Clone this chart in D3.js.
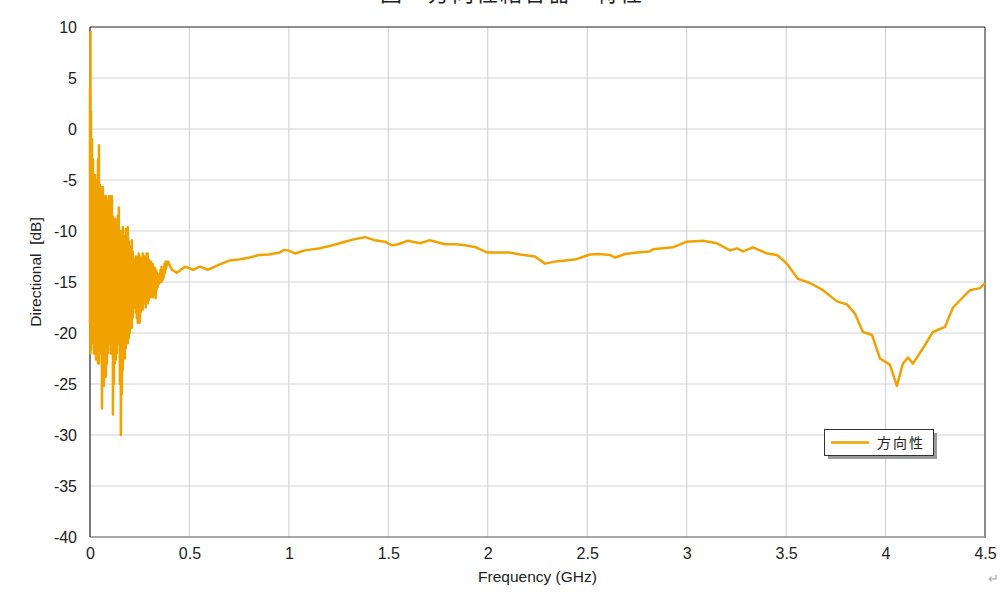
<!DOCTYPE html>
<html>
<head>
<meta charset="utf-8">
<script src="https://cdn.jsdelivr.net/npm/d3@7"></script>
<style>
  html, body { margin: 0; padding: 0; background: #fff; }
  svg { display: block; }
</style>
</head>
<body>
<svg id="chart" width="1000" height="594"></svg>
<script>
// ---------- data ----------
const titleText = "図\u3000方向性結合器\u3000特性";
const xTitle = "Frequency (GHz)";
const yTitle = "Directional\u00a0\u00a0[dB]";
const seriesName = "方向性";

const xTicks = [0, 0.5, 1, 1.5, 2, 2.5, 3, 3.5, 4, 4.5];
const xTickLabels = ["0", "0.5", "1", "1.5", "2", "2.5", "3", "3.5", "4", "4.5"];
const yTicks = [-40, -35, -30, -25, -20, -15, -10, -5, 0, 5, 10];
const yTickLabels = ["-40", "-35", "-30", "-25", "-20", "-15", "-10", "-5", "0", "5", "10"];

// low-frequency noisy region: per-bin max / min values
const noiseFreq = [0, 0.0025, 0.005, 0.0075, 0.010, 0.015, 0.020, 0.025, 0.030, 0.035, 0.040, 0.045, 0.050,
  0.055, 0.060, 0.065, 0.070, 0.075, 0.080, 0.085, 0.090, 0.095, 0.100, 0.105, 0.110, 0.115, 0.120,
  0.125, 0.130, 0.135, 0.140, 0.145, 0.150, 0.155, 0.160, 0.165, 0.170, 0.175, 0.180, 0.185, 0.190,
  0.195, 0.200, 0.205, 0.210, 0.215, 0.220, 0.225, 0.230, 0.235, 0.240, 0.245, 0.250, 0.255, 0.260,
  0.265, 0.270, 0.275, 0.280, 0.285, 0.290, 0.295, 0.300, 0.305, 0.310, 0.315, 0.320, 0.325, 0.330,
  0.335, 0.340, 0.345, 0.350, 0.355, 0.360, 0.365, 0.370, 0.375, 0.380];
const noiseHi = [4, 9.5, 1.7, -3, -1, -3, -5, -4.5, -5.0, -5.5, -3, -1.6, -5.5,
  -6, -5.7, -5.7, -6.6, -7, -6.6, -7.5, -7, -6.6, -6.6, -8, -6.6,
  -8.6, -9, -8.8, -8.9, -9.5, -8.5, -7.7, -10, -12.5, -10, -9.6, -11,
  -10.5, -9.8, -10, -9.6, -11, -11.5, -11.5, -10.9, -12, -12.8, -12.8, -12.5,
  -13, -12.5, -12.2, -12.5, -12.8, -12.6, -12.2, -12.8, -12.5, -12.6, -12.2, -12.2,
  -12.8, -13.2, -13.0, -13.4, -13.2, -13.5, -13.6, -13.8, -14.0, -14.2, -14.5, -14.5,
  -13.8, -13.5, -13.8, -14.0, -13.2, -13.0];
const noiseLo = [-19, -22, -21.7, -20, -21, -19.7, -22, -21, -22.6, -22, -23, -23, -21,
  -22, -27.4, -24.9, -25.2, -24, -24.3, -23, -22, -21, -20.4, -22, -21,
  -28.0, -25, -23, -22.6, -22, -21, -20.2, -25, -30.0, -26, -23.6, -22,
  -22.5, -21.5, -21, -21.0, -20.5, -20, -19.5, -19.5, -18.5, -17.5, -16.8, -18,
  -18.5, -19, -18.2, -19.0, -18, -17.7, -17.7, -17, -16.8, -17.5, -16.5, -17.1,
  -16.8, -16.2, -16.5, -16.0, -16.5, -16.0, -16.3, -16.6, -15.8, -15.5, -15.2, -15.1,
  -15.0, -15.0, -14.8, -14.6, -14.2, -13.8];

// smooth region
const smoothFreq = [0.392, 0.412, 0.437, 0.477, 0.518, 0.553, 0.593, 0.65, 0.70, 0.75, 0.804, 0.85, 0.90,
  0.955, 0.975, 0.995, 1.031, 1.08, 1.156, 1.22, 1.282, 1.33, 1.383, 1.43, 1.483, 1.518, 1.55,
  1.599, 1.659, 1.709, 1.785, 1.84, 1.885, 1.94, 1.996, 2.061, 2.11, 2.162, 2.237, 2.288, 2.338,
  2.39, 2.438, 2.514, 2.56, 2.614, 2.64, 2.69, 2.75, 2.815, 2.831, 2.931, 3.001, 3.082, 3.152,
  3.218, 3.253, 3.283, 3.333, 3.404, 3.454, 3.504, 3.56, 3.62, 3.685, 3.756, 3.806, 3.846, 3.886,
  3.932, 3.972, 4.022, 4.057, 4.087, 4.113, 4.138, 4.188, 4.238, 4.299, 4.339, 4.424, 4.475, 4.5];
const smoothVal = [-13.0, -13.8, -14.1, -13.5, -13.8, -13.5, -13.8, -13.3, -12.9, -12.8, -12.6, -12.35, -12.3,
  -12.1, -11.85, -11.9, -12.2, -11.9, -11.7, -11.4, -11.05, -10.8, -10.6, -10.9, -11.05, -11.4, -11.3,
  -10.95, -11.2, -10.9, -11.3, -11.3, -11.4, -11.6, -12.1, -12.1, -12.1, -12.3, -12.5, -13.2, -13.0,
  -12.9, -12.8, -12.3, -12.25, -12.35, -12.6, -12.25, -12.1, -12.0, -11.8, -11.6, -11.05, -10.95, -11.2,
  -11.9, -11.7, -12.0, -11.6, -12.2, -12.35, -13.2, -14.7, -15.1, -15.8, -16.9, -17.2, -18.1, -19.9,
  -20.2, -22.5, -23.1, -25.2, -23.0, -22.4, -23.0, -21.5, -19.9, -19.4, -17.5, -15.8, -15.6, -15.1];

// ---------- drawing ----------
const svg = d3.select("#chart");
const W = 1000, H = 594;
const pL = 90, pR = 985, pT = 27, pB = 537;
const lineColor = "#f2a200";
const latin = "'Liberation Sans', Arial, sans-serif";
const cjk = "'Noto Sans CJK JP', 'Noto Sans CJK SC', sans-serif";

const x = d3.scaleLinear().domain([0, 4.5]).range([pL, pR]);
const y = d3.scaleLinear().domain([-40, 10]).range([pB, pT]);

svg.append("rect").attr("width", W).attr("height", H).attr("fill", "#fff");

// title (mostly cut off at the top, as in the source)
svg.append("text")
  .attr("x", 512).attr("y", 1)
  .attr("text-anchor", "middle")
  .attr("font-family", cjk).attr("font-size", 22)
  .attr("letter-spacing", 2)
  .attr("fill", "#222")
  .text(titleText);

// grid
const grid = svg.append("g");
grid.selectAll("line.h").data(yTicks.slice(1, -1)).join("line")
  .attr("x1", pL).attr("x2", pR)
  .attr("y1", d => y(d)).attr("y2", d => y(d))
  .attr("stroke", "#d4d4d4").attr("stroke-width", 1.2);
grid.selectAll("line.v").data(xTicks.slice(1, -1)).join("line")
  .attr("y1", pT).attr("y2", pB)
  .attr("x1", d => x(d)).attr("x2", d => x(d))
  .attr("stroke", "#d4d4d4").attr("stroke-width", 1.2);

// axes (labels only, via d3 axes)
const xAxis = d3.axisBottom(x).tickValues(xTicks)
  .tickFormat((d, i) => xTickLabels[i]).tickSize(0).tickPadding(0);
const gx = svg.append("g").attr("transform", `translate(0,${pB + 22})`).call(xAxis);
gx.select(".domain").remove();
gx.selectAll("text").attr("font-family", latin).attr("font-size", 16)
  .attr("fill", "#222").attr("dy", 0).attr("y", 0);

const yAxis = d3.axisLeft(y).tickValues(yTicks)
  .tickFormat((d, i) => yTickLabels[i]).tickSize(0).tickPadding(0);
const gy = svg.append("g").attr("transform", `translate(${pL - 13},0)`).call(yAxis);
gy.select(".domain").remove();
gy.selectAll("text").attr("font-family", latin).attr("font-size", 16)
  .attr("fill", "#222").attr("dy", "0.35em");

// axis titles
svg.append("text").attr("x", (pL + pR) / 2).attr("y", 582)
  .attr("text-anchor", "middle").attr("font-family", latin).attr("font-size", 15.5)
  .attr("fill", "#222").text(xTitle);
svg.append("text").attr("transform", `translate(41,${272}) rotate(-90)`)
  .attr("text-anchor", "middle").attr("font-family", latin).attr("font-size", 15.5)
  .attr("fill", "#222").text(yTitle);

// frame
svg.append("line").attr("x1", pL).attr("x2", pR).attr("y1", pB).attr("y2", pB)
  .attr("stroke", "#8a8a8a").attr("stroke-width", 1.5);
svg.append("line").attr("x1", pR).attr("x2", pR).attr("y1", pT).attr("y2", pB + 0.75)
  .attr("stroke", "#8a8a8a").attr("stroke-width", 2);
svg.append("line").attr("x1", pL).attr("x2", pR).attr("y1", pT).attr("y2", pT)
  .attr("stroke", "#222").attr("stroke-width", 1.2);
svg.append("line").attr("x1", pL).attr("x2", pL).attr("y1", pT).attr("y2", pB)
  .attr("stroke", "#222").attr("stroke-width", 1.2);

// series
const pts = [];
noiseFreq.forEach((f, i) => { pts.push([f, noiseHi[i]]); pts.push([f, noiseLo[i]]); });
smoothFreq.forEach((f, i) => pts.push([f, smoothVal[i]]));

svg.append("path").datum(pts)
  .attr("d", d3.line().x(d => x(d[0])).y(d => y(d[1])))
  .attr("fill", "none").attr("stroke", lineColor).attr("stroke-width", 2.5)
  .attr("stroke-linejoin", "round");

// legend
const lg = svg.append("g");
lg.append("rect").attr("x", 828).attr("y", 433).attr("width", 109).attr("height", 26).attr("fill", "#9a9a9a");
lg.append("rect").attr("x", 824.5).attr("y", 429.5).attr("width", 109).attr("height", 26)
  .attr("fill", "#fff").attr("stroke", "#333").attr("stroke-width", 1);
lg.append("line").attr("x1", 831).attr("x2", 869).attr("y1", 442.5).attr("y2", 442.5)
  .attr("stroke", lineColor).attr("stroke-width", 2.4);
lg.append("text").attr("x", 877).attr("y", 448).attr("font-family", cjk).attr("font-size", 14)
  .attr("letter-spacing", 2).attr("fill", "#222").text(seriesName);

// paragraph mark at bottom-right corner
svg.append("text").attr("x", 988).attr("y", 583).attr("font-family", latin).attr("font-size", 13)
  .attr("fill", "#aaa").text("↵");
</script>
</body>
</html>
